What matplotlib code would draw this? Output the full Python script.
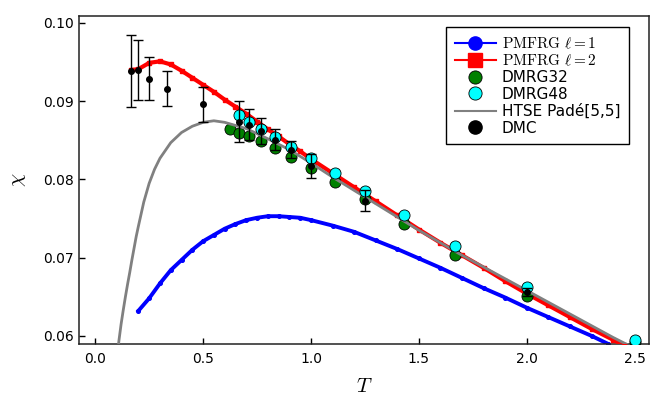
import matplotlib
matplotlib.use('Agg')
import matplotlib.pyplot as plt
from matplotlib.lines import Line2D

plt.rcParams['mathtext.fontset'] = 'cm'
plt.rcParams['font.family'] = 'DejaVu Sans'

# PMFRG l=1
T_pm1 = [0.20, 0.25, 0.30, 0.35, 0.40, 0.45, 0.50, 0.55, 0.60, 0.65, 0.70, 0.75,
         0.80, 0.85, 0.90, 0.95, 1.00, 1.10, 1.20, 1.30, 1.40, 1.50, 1.60, 1.70,
         1.80, 1.90, 2.00, 2.10, 2.20, 2.30, 2.375]
chi_pm1 = [0.0632, 0.0648, 0.0667, 0.0684, 0.0697, 0.0710, 0.0721, 0.0729, 0.0737,
           0.0743, 0.0748, 0.0751, 0.0753, 0.0753, 0.0752, 0.0751, 0.0748, 0.0741,
           0.0733, 0.0722, 0.0711, 0.0699, 0.0687, 0.0674, 0.0661, 0.0649, 0.0636,
           0.0624, 0.0612, 0.0600, 0.0590]

# PMFRG l=2
T_pm2 = [0.167, 0.20, 0.25, 0.30, 0.35, 0.40, 0.45, 0.50, 0.55, 0.60, 0.65, 0.70,
         0.75, 0.80, 0.85, 0.90, 0.95, 1.00, 1.10, 1.20, 1.30, 1.40, 1.50, 1.60,
         1.70, 1.80, 1.90, 2.00, 2.10, 2.20, 2.30, 2.40, 2.45]
chi_pm2 = [0.0940, 0.0941, 0.0949, 0.0951, 0.0947, 0.0939, 0.0930, 0.0921, 0.0912,
           0.0902, 0.0893, 0.0884, 0.0874, 0.0864, 0.0855, 0.0845, 0.0836, 0.0826,
           0.0808, 0.0790, 0.0772, 0.0754, 0.0736, 0.0719, 0.0703, 0.0687, 0.0670,
           0.0654, 0.0639, 0.0624, 0.0609, 0.0595, 0.0588]

# DMRG
T_dmrg32 = [0.625, 0.667, 0.714, 0.769, 0.833, 0.909, 1.0, 1.111, 1.25, 1.429,
            1.667, 2.0, 2.5]
chi_dmrg32 = [0.0865, 0.0860, 0.0856, 0.0849, 0.0840, 0.0829, 0.0814, 0.0797,
              0.0775, 0.0743, 0.0704, 0.0651, 0.0592]
T_dmrg48 = [0.667, 0.714, 0.769, 0.833, 0.909, 1.0, 1.111, 1.25, 1.429, 1.667,
            2.0, 2.5]
chi_dmrg48 = [0.0882, 0.0874, 0.0865, 0.0854, 0.0842, 0.0827, 0.0808, 0.0785,
              0.0754, 0.0715, 0.0663, 0.0595]
err_dmrg48 = [0.0005] * len(T_dmrg48)

# HTSE Pade[5,5]
T_htse = [0.100, 0.110, 0.120, 0.130, 0.140, 0.150, 0.160, 0.170, 0.180, 0.190,
          0.200, 0.225, 0.25, 0.275, 0.30, 0.35, 0.40, 0.45, 0.50, 0.55, 0.60,
          0.70, 0.80, 0.90, 1.00, 1.10, 1.20, 1.30, 1.40, 1.50, 1.60, 1.70, 1.80,
          1.90, 2.00, 2.10, 2.20, 2.30, 2.40, 2.50]
chi_htse = [0.0570, 0.0594, 0.0615, 0.0633, 0.0650, 0.0666, 0.0681, 0.0697,
            0.0712, 0.0727, 0.0740, 0.0771, 0.0795, 0.0813, 0.0827, 0.0847,
            0.0860, 0.0868, 0.0873, 0.0875, 0.0873, 0.0865, 0.0852, 0.0838,
            0.0821, 0.0803, 0.0786, 0.0769, 0.0752, 0.0735, 0.0719, 0.0703,
            0.0688, 0.0673, 0.0658, 0.0643, 0.0628, 0.0613, 0.0598, 0.0584]

# DMC
T_dmc = [0.167, 0.20, 0.25, 0.333, 0.50, 0.667, 0.714, 0.769, 0.833, 0.909, 1.0,
         1.25, 2.0]
chi_dmc = [0.0939, 0.0940, 0.0929, 0.0916, 0.0896, 0.0874, 0.0870, 0.0862,
           0.0851, 0.0838, 0.0817, 0.0773, 0.0656]
err_dmc = [0.0046, 0.0038, 0.0028, 0.0022, 0.0022, 0.0026, 0.0020, 0.0017,
           0.0014, 0.0011, 0.0015, 0.0013, 0.0005]

fig = plt.figure(figsize=(6.64, 3.99), dpi=100)
ax = fig.add_axes([0.119, 0.138, 0.858, 0.822])

ax.plot(T_pm1, chi_pm1, color='blue', lw=2.8, marker='o', ms=2.6, zorder=2)
ax.plot(T_pm2, chi_pm2, color='red', lw=3.0, marker='s', ms=3.0, zorder=3)
ax.errorbar(T_dmrg32, chi_dmrg32, fmt='o', color='green', mec='black', mew=0.6,
            ms=8, zorder=4)
ax.errorbar(T_dmrg48, chi_dmrg48, yerr=err_dmrg48, fmt='o', color='cyan',
            mec='black', mew=0.6, ms=8, ecolor='black', elinewidth=0.8,
            capsize=3, zorder=6)
ax.plot(T_htse, chi_htse, color='gray', lw=2.0, zorder=5)
ax.errorbar(T_dmc, chi_dmc, yerr=err_dmc, fmt='o', color='black', ms=4,
            ecolor='black', elinewidth=1.0, capsize=3.5, capthick=1.0, zorder=7)

ax.set_xlim(-0.075, 2.565)
ax.set_ylim(0.05897, 0.1009)
ax.set_xticks([0.0, 0.5, 1.0, 1.5, 2.0, 2.5])
ax.set_yticks([0.06, 0.07, 0.08, 0.09, 0.10])
ax.set_xticklabels(['0.0', '0.5', '1.0', '1.5', '2.0', '2.5'])
ax.set_yticklabels(['0.06', '0.07', '0.08', '0.09', '0.10'])
ax.tick_params(direction='in', length=4, width=1, labelsize=10, colors='black')
ax.tick_params(axis='x', pad=6)
for s in ax.spines.values():
    s.set_linewidth(1.1)
    s.set_color('#222222')

ax.set_xlabel(r'$T$', fontsize=15, labelpad=7)
ax.set_ylabel(r'$\chi$', fontsize=15, rotation=90, labelpad=11)

handles = [
    Line2D([], [], color='blue', lw=1.5, marker='o', ms=9.5),
    Line2D([], [], color='red', lw=1.5, marker='s', ms=9.5),
    Line2D([], [], ls='none', marker='o', color='green', mec='black', mew=0.6, ms=9.5),
    Line2D([], [], ls='none', marker='o', color='cyan', mec='black', mew=0.6, ms=9.5),
    Line2D([], [], color='gray', lw=1.5),
    Line2D([], [], ls='none', marker='o', color='black', ms=9.5),
]
labels = [r'$\mathrm{PMFRG}\ \ell=1$', r'$\mathrm{PMFRG}\ \ell=2$', 'DMRG32',
          'DMRG48', 'HTSE Padé[5,5]', 'DMC']
leg = ax.legend(handles, labels, loc='upper right', bbox_to_anchor=(0.965, 0.966),
                borderaxespad=0, fontsize=11, fancybox=False, framealpha=1,
                edgecolor='black', labelspacing=0.12, handlelength=2.7,
                handletextpad=0.4, borderpad=0.55)
leg.get_frame().set_linewidth(1.0)

fig.savefig('out.png', dpi=100)
